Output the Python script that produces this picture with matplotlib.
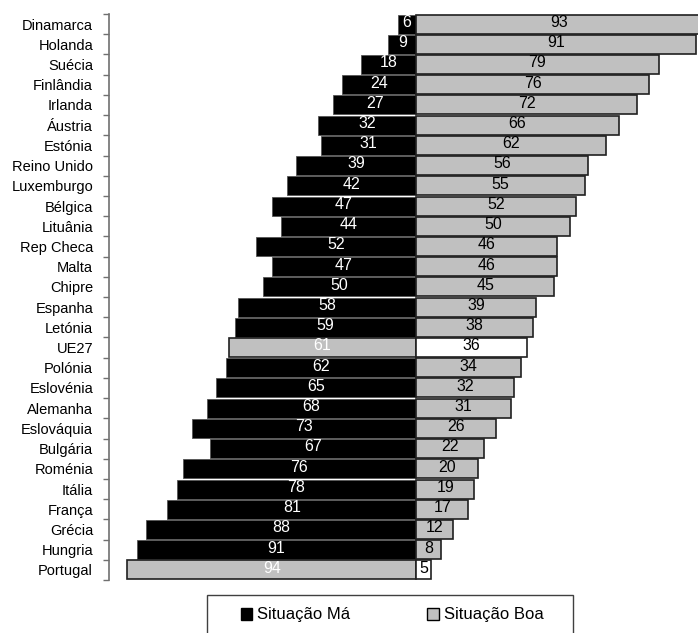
import numpy as np
import matplotlib
matplotlib.use("Agg")
import matplotlib.pyplot as plt
from matplotlib.patches import Patch, Rectangle

countries = ["Dinamarca", "Holanda", "Suécia", "Finlândia", "Irlanda", "Áustria",
             "Estónia", "Reino Unido", "Luxemburgo", "Bélgica", "Lituânia",
             "Rep Checa", "Malta", "Chipre", "Espanha", "Letónia", "UE27",
             "Polónia", "Eslovénia", "Alemanha", "Eslováquia", "Bulgária",
             "Roménia", "Itália", "França", "Grécia", "Hungria", "Portugal"]
ma = [6, 9, 18, 24, 27, 32, 31, 39, 42, 47, 44, 52, 47, 50, 58, 59, 61,
      62, 65, 68, 73, 67, 76, 78, 81, 88, 91, 94]
boa = [93, 91, 79, 76, 72, 66, 62, 56, 55, 52, 50, 46, 46, 45, 39, 38, 36,
       34, 32, 31, 26, 22, 20, 19, 17, 12, 8, 5]
highlight = ["UE27", "Portugal"]

plt.rcParams["font.family"] = ["Liberation Sans Narrow", "Liberation Sans", "DejaVu Sans"]

GREY = "#C0C0C0"
W, H = 698, 633

fig = plt.figure(figsize=(6.98, 6.33), dpi=100)
ax = fig.add_axes([109 / W, 1 - 580 / H, (W - 109) / W, 566 / H])

y = np.arange(len(countries))
for i, c in enumerate(countries):
    hl = c in highlight
    left_col = GREY if hl else "black"
    left_edge = "#202020" if hl else "#555555"
    right_col = "white" if hl else GREY
    ax.barh(i, -ma[i], height=0.94, color=left_col, edgecolor=left_edge,
            linewidth=1.2 if hl else 0.6)
    ax.barh(i, boa[i], height=0.94, color=right_col, edgecolor="#202020",
            linewidth=1.2)
    ax.text(-ma[i] / 2, i - 0.08, str(ma[i]), ha="center", va="center",
            color="white", fontsize=11.5)
    ax.text(boa[i] / 2, i - 0.08, str(boa[i]), ha="center", va="center",
            color="black", fontsize=11.5)

ax.set_xlim(-100, 91.8)
ax.set_ylim(len(countries) - 0.5, -0.5)
ax.set_yticks(y)
ax.set_yticklabels(countries, fontsize=10.5)
ax.set_yticks(np.arange(len(countries) + 1) - 0.5, minor=True)
ax.tick_params(axis="y", which="major", length=0, pad=11.5)
ax.tick_params(axis="y", which="minor", length=4, color="#707070", width=1)
ax.set_xticks([])
for s in ["top", "right", "bottom"]:
    ax.spines[s].set_visible(False)
ax.spines["left"].set_color("#707070")
ax.spines["left"].set_linewidth(1.2)

# legend box (runs off the bottom of the image like the original)
fig.patches.append(Rectangle((207 / W, 1 - 645 / H), (573 - 207) / W, 50 / H,
                             transform=fig.transFigure, facecolor="white",
                             edgecolor="#404040", linewidth=1.0))
handles = [Patch(facecolor="black", edgecolor="black", label="Situação Má"),
           Patch(facecolor=GREY, edgecolor="black", label="Situação Boa")]
fig.legend(handles=handles, loc="center", bbox_to_anchor=(392 / W, 1 - 615 / H),
           ncol=2, fontsize=12, frameon=False, handlelength=0.7, handleheight=0.7,
           handletextpad=0.3, columnspacing=4.6)

fig.savefig("out.png", dpi=100)
